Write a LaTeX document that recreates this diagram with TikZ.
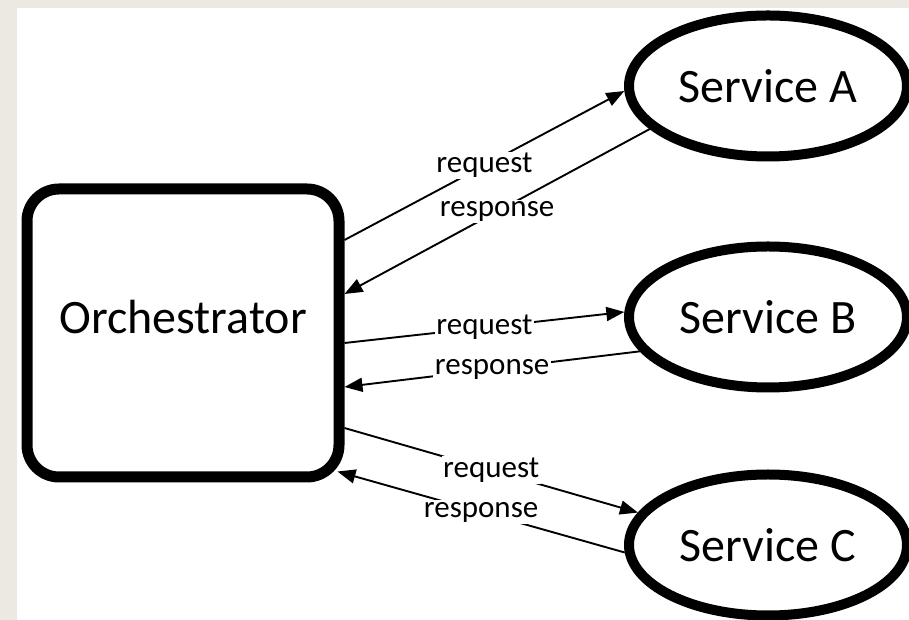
\documentclass[tikz,border=0pt]{standalone}
\usepackage{fontspec}
\setmainfont{Carlito}
\usetikzlibrary{shapes.geometric,arrows.meta}
\definecolor{pageframe}{RGB}{236,233,226}

\begin{document}
\begin{tikzpicture}[x=1pt,y=1pt,
    service/.style={draw, ellipse, line width=10pt, minimum width=278pt, minimum height=141pt, inner sep=0pt, font=\fontsize{48}{52}\selectfont},
    msg/.style={-{Triangle[length=18pt,width=14pt]}, line width=1.9pt},
    msglabel/.style={fill=white, inner sep=1.5pt, font=\fontsize{31}{35}\selectfont}]
                \useasboundingbox (0,0) rectangle (909,620);
                \fill[pageframe] (0,0) rectangle (909,620);
                \fill[white] (17,0) rectangle (909,612);
                \node[draw, line width=11pt, rounded corners=32pt, minimum width=312pt, minimum height=288pt, text depth=32pt, font=\fontsize{48}{52}\selectfont] (orch) at (183,287) {Orchestrator};
                \node[service] (sa) at (768,534) {Service A};
                \node[service] (sb) at (768,303) {Service B};
                \node[service] (sc) at (768,75) {Service C};
                \draw[msg] ([yshift=93pt]orch.east) -- node[msglabel] {request} (sa.182);
                \draw[msg] (sa.200) -- node[msglabel] {response} ([yshift=39pt]orch.east);
                \draw[msg] ([yshift=-10pt]orch.east) -- node[msglabel] {request} (sb.178);
                \draw[msg] (sb.195) -- node[msglabel] {response} ([yshift=-54pt]orch.east);
                \draw[msg] ([yshift=-95pt]orch.east) -- node[msglabel] {request} (sc.166);
                \draw[msg] (sc.183) -- node[msglabel] {response} ([shift={(-7pt,11pt)}]orch.south east);
            \end{tikzpicture}
\end{document}
